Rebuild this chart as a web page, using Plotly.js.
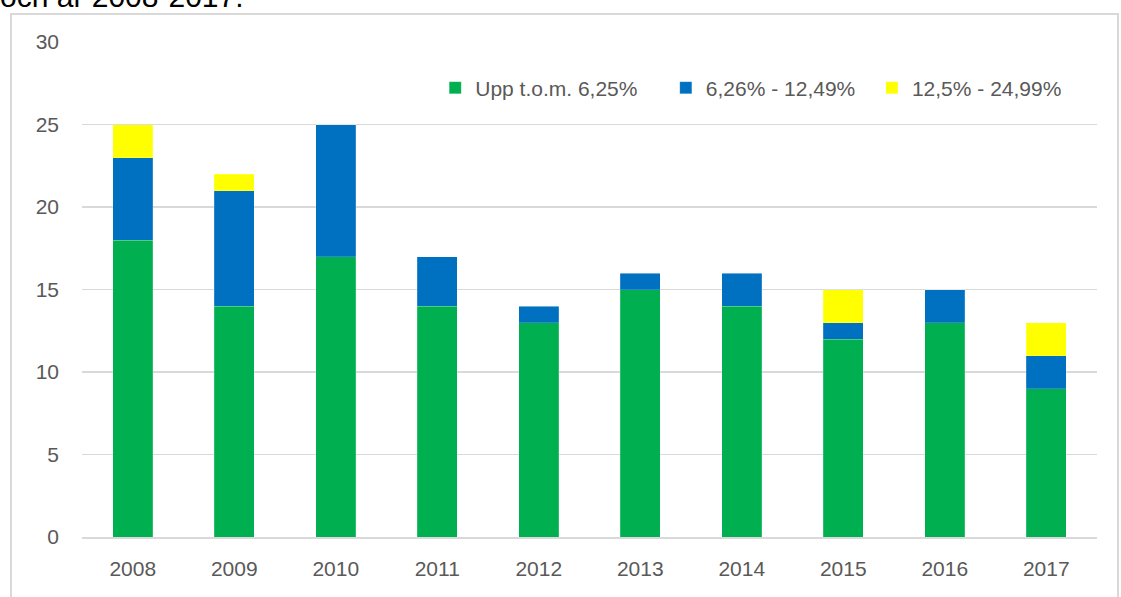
<!DOCTYPE html>
<html>
<head>
<meta charset="utf-8">
<script src="https://cdn.plot.ly/plotly-3.0.1.min.js"></script>
<style>
  html, body { margin: 0; padding: 0; width: 1121px; height: 597px; overflow: hidden; background: #fff; }
  #cap { position: absolute; left: 0; top: -18px; font-family: "Liberation Sans", Arial, sans-serif; font-size: 30px; line-height: 30px; color: #000; white-space: nowrap; }
  #frame { position: absolute; left: 10px; top: 13px; width: 1109px; height: 600px; border: 2px solid #d9d9d9; box-sizing: border-box; }
  #chart { position: absolute; left: 0; top: 0; width: 1121px; height: 597px; }
</style>
</head>
<body>
<div id="cap">och år 2008-2017.</div>
<div id="frame"></div>
<div id="chart"></div>
<script>
const years = ["2008","2009","2010","2011","2012","2013","2014","2015","2016","2017"];
const seriesNames = ["Upp t.o.m. 6,25%", "6,26% - 12,49%", "12,5% - 24,99%"];
const greenVals = [18, 14, 17, 14, 13, 15, 14, 12, 13, 9];
const blueVals = [5, 7, 8, 3, 1, 1, 2, 1, 2, 2];
const yellowVals = [2, 1, 0, 0, 0, 0, 0, 2, 0, 2];
const colors = ["#00B050", "#0070C0", "#FFFF00"];

const pads = ["\u00a0\u00a0\u00a0\u00a0", "\u00a0\u00a0", ""];
const allVals = [greenVals, blueVals, yellowVals];
const traces = allVals.map((v, i) => ({
  type: "bar",
  x: years,
  y: v,
  name: seriesNames[i] + pads[i],
  marker: { color: colors[i], line: { color: "rgba(255,255,255,0.35)", width: 0.5 } },
  hoverinfo: "x+y+name"
}));

const font = { family: "Liberation Sans, Arial, sans-serif", size: 21, color: "#595959" };
const layout = {
  width: 1121, height: 597,
  paper_bgcolor: "rgba(0,0,0,0)", plot_bgcolor: "rgba(0,0,0,0)",
  margin: { l: 82, r: 24, t: 42, b: 60 },
  barmode: "stack",
  bargap: 0.605,
  font: font,
  showlegend: true,
  legend: {
    orientation: "h", x: 0.348, xanchor: "left", y: 0.907, yanchor: "middle",
    font: font, bgcolor: "rgba(0,0,0,0)", traceorder: "normal",
    itemwidth: 30
  },
  xaxis: {
    type: "category", showgrid: false, zeroline: false,
    showline: true, linecolor: "#d9d9d9", linewidth: 1.5,
    ticks: "", ticklabelstandoff: 12, tickfont: font
  },
  yaxis: {
    range: [0, 30], dtick: 5, showgrid: true, gridcolor: "#d9d9d9", gridwidth: 1.5,
    zeroline: false, showline: false, ticks: "", ticklabelstandoff: 22, tickfont: font
  }
};
Plotly.newPlot("chart", traces, layout, { displayModeBar: false, staticPlot: true });
</script>
</body>
</html>
